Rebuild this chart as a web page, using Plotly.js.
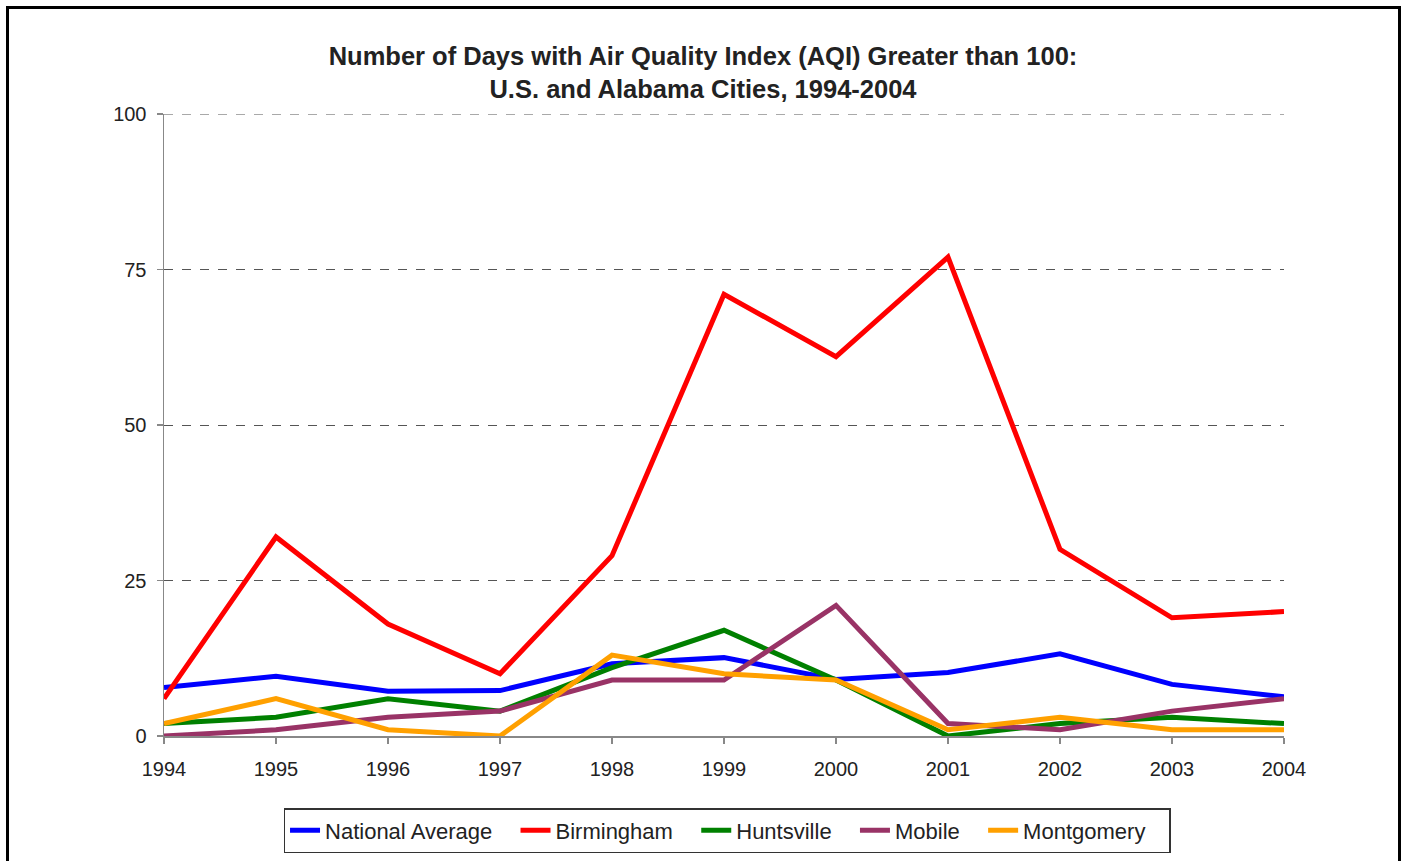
<!DOCTYPE html>
<html>
<head>
<meta charset="utf-8">
<script src="https://cdn.plot.ly/plotly-3.0.1.min.js"></script>
<style>
html,body{margin:0;padding:0;overflow:hidden;background:#fff;}
#chart{width:1406px;height:861px;position:absolute;left:0;top:0;}
#frame{position:absolute;left:6px;top:6px;width:1389px;height:900px;border:3px solid #000;pointer-events:none;}
</style>
</head>
<body>
<div id="chart"></div>
<div id="frame"></div>
<script>
const years = [1994,1995,1996,1997,1998,1999,2000,2001,2002,2003,2004];
const nationalAverage = [7.8,9.6,7.2,7.3,11.6,12.6,9.1,10.2,13.2,8.3,6.3];
const birmingham = [6,32,18,10,29,71,61,77,30,19,20];
const huntsville = [2,3,6,4,11,17,9,0,2,3,2];
const mobile = [0,1,3,4,9,9,21,2,1,4,6];
const montgomery = [2,6,1,0,13,10,9,1,3,1,1];
const yTicks = [0,25,50,75,100];
const seriesNames = ["National Average","Birmingham","Huntsville","Mobile","Montgomery"];
const seriesColors = ["#0000FF","#FF0000","#008000","#993366","#FFA000"];
const seriesData = [nationalAverage,birmingham,huntsville,mobile,montgomery];

const pad = "\u00a0\u00a0\u00a0";
const traces = seriesData.map((d,i)=>({
  x: years, y: d, type:'scatter', mode:'lines', name: seriesNames[i] + pad,
  line:{color:seriesColors[i], width:5}
}));

const yMax = yTicks[yTicks.length-1];
const font = "Liberation Sans, Arial, sans-serif";
const layout = {
  width:1406, height:861,
  margin:{l:164, r:122, t:114, b:125, autoexpand:false},
  paper_bgcolor:'#fff', plot_bgcolor:'#fff',
  font:{family:font, color:'#222', size:20},
  title:{text:"<b>Number of Days with Air Quality Index (AQI) Greater than 100:<br>U.S. and Alabama Cities, 1994-2004</b>",
    x:0.5, xanchor:'center', y:0.925, yanchor:'middle', font:{family:font, size:25.5, color:'#222'}},
  xaxis:{range:[1994,2004], tickvals:years, ticktext:years.map(String), showgrid:false, zeroline:false,
    showline:true, linecolor:'#888', linewidth:1.5, ticks:'outside', ticklen:6, tickcolor:'#888', tickwidth:1.5,
    tickfont:{size:20, color:'#222'}, ticklabelstandoff:8},
  yaxis:{range:[0,yMax], tickvals:yTicks, showgrid:true, gridcolor:'#555', griddash:'dash', gridwidth:1,
    zeroline:false, showline:true, linecolor:'#888', linewidth:1.5, ticks:'outside', ticklen:6, tickcolor:'#888', tickwidth:1.5,
    tickfont:{size:20, color:'#222'}, ticklabelstandoff:6},
  shapes:[{type:'line', xref:'paper', yref:'y', x0:0, x1:1, y0:yMax, y1:yMax,
    line:{color:'#555', width:1, dash:'dash'}, layer:'below'}],
  showlegend:true,
  legend:{orientation:'h', x:0.5027, xanchor:'center', yref:'container', y:0.0615, yanchor:'top',
    bordercolor:'#333', borderwidth:1.5, font:{size:22, color:'#222'}, bgcolor:'#fff'},
};
Plotly.newPlot('chart', traces, layout, {displayModeBar:false, staticPlot:true});
</script>
</body>
</html>
